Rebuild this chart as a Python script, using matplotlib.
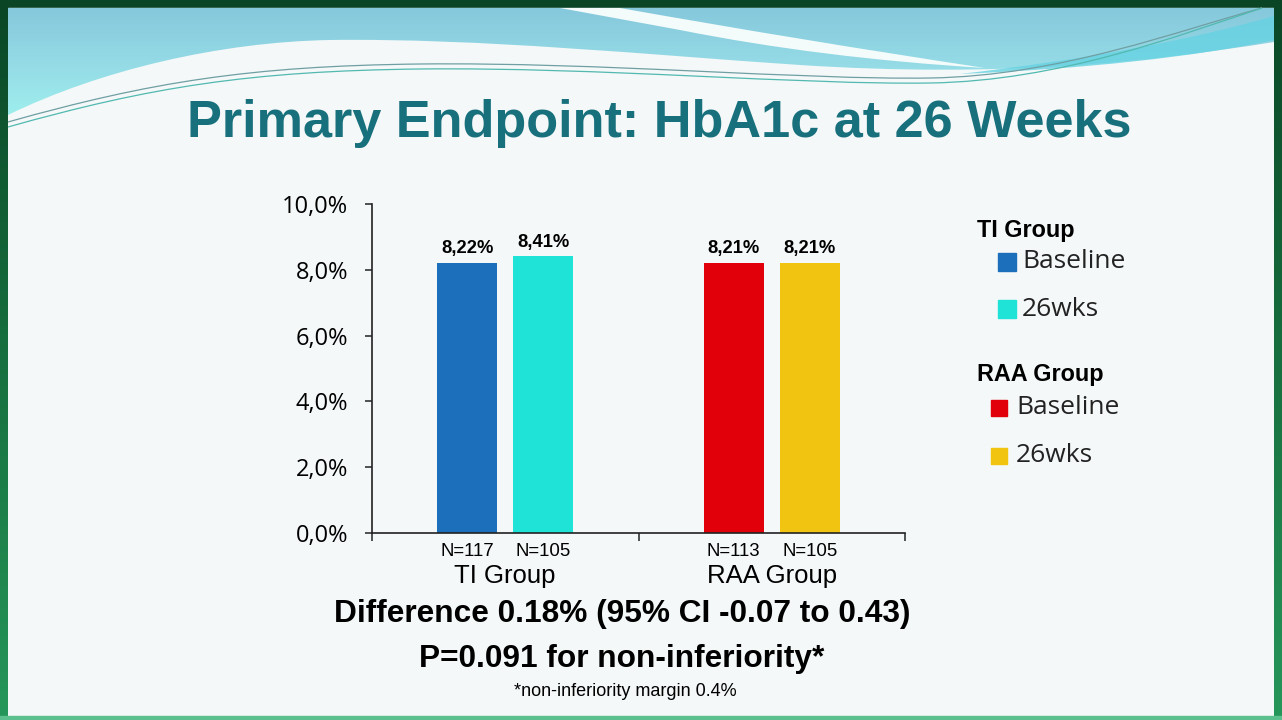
import numpy as np
import matplotlib
matplotlib.use("Agg")
import matplotlib.pyplot as plt
from matplotlib.path import Path
from matplotlib.patches import PathPatch, Rectangle
from matplotlib.colors import LinearSegmentedColormap

# chart data
groups = ["TI Group", "RAA Group"]
series = ["Baseline", "26wks"]
baseline = [8.22, 8.21]
week26 = [8.41, 8.21]
n_baseline = [117, 113]
n_week26 = [105, 105]
yticks = [0, 2, 4, 6, 8, 10]

baseline_colors = ["#1b6fbb", "#e1000a"]
week26_colors = ["#1fe3d6", "#f2c412"]

title = "Primary Endpoint: HbA1c at 26 Weeks"
result_lines = ["Difference 0.18% (95% CI -0.07 to 0.43)", "P=0.091 for non-inferiority*"]
footnote = "*non-inferiority margin 0.4%"

ARIAL = "Liberation Sans"
CALIBRI = "Open Sans"

W, H = 1282, 720
fig = plt.figure(figsize=(W / 100, H / 100), dpi=100, facecolor="#0a4626")

# ---- slide background (pixel coordinates, y down) ----
bg = fig.add_axes([0, 0, 1, 1], zorder=-10)
bg.axis("off")
bg.add_patch(Rectangle((8, 8), W - 16, H - 12, color="#f4f8f8", zorder=0))

side = LinearSegmentedColormap.from_list("side", ["#0a4626", "#17703f", "#26975a"])
grad = np.linspace(0, 1, 256).reshape(-1, 1)
for x0 in (0, W - 8):
    bg.imshow(grad, cmap=side, extent=[x0, x0 + 8, H, 0], aspect="auto", zorder=1)
bg.add_patch(Rectangle((0, H - 4), W, 4, color="#5cbf8e", zorder=1))

C4 = Path.CURVE4
swoosh = Path(
    [(8, 8), (8, 115), (100, 70), (220, 42), (330, 40), (480, 38), (650, 55),
     (800, 65), (1000, 78), (1150, 62), (1274, 42), (1274, 8), (8, 8)],
    [Path.MOVETO, Path.LINETO, C4, C4, C4, C4, C4, C4, C4, C4, C4,
     Path.LINETO, Path.CLOSEPOLY],
)
sw_patch = PathPatch(swoosh, facecolor="none", edgecolor="none", zorder=2)
bg.add_patch(sw_patch)
cyan = LinearSegmentedColormap.from_list("cyan", ["#86c8dc", "#95dbe6", "#9ff0ee"])
im = bg.imshow(np.linspace(0, 1, 256).reshape(-1, 1), cmap=cyan,
               extent=[8, W - 8, 120, 8], aspect="auto", zorder=2)
im.set_clip_path(sw_patch)

streak = Path(
    [(560, 8), (620, 8), (800, 40), (985, 68), (820, 58), (680, 30), (560, 8)],
    [Path.MOVETO, Path.LINETO, Path.CURVE3, Path.CURVE3, Path.CURVE3, Path.CURVE3,
     Path.CLOSEPOLY],
)
bg.add_patch(PathPatch(streak, facecolor="#f3fbfb", edgecolor="none", zorder=3))

band = Path(
    [(960, 74), (1150, 52), (1274, 16), (1274, 40), (1150, 66), (960, 74)],
    [Path.MOVETO, Path.CURVE3, Path.CURVE3, Path.LINETO, Path.CURVE3, Path.CURVE3],
)
bg.add_patch(PathPatch(band, facecolor="#66d2e2", edgecolor="none", alpha=0.8, zorder=3))

for dy, col in ((0, "#6f9fa3"), (5, "#52b9b0")):
    line = Path(
        [(8, 122 + dy), (150, 82 + dy), (250, 66 + dy), (420, 64 + dy),
         (600, 62 + dy), (800, 80 + dy), (930, 78 + dy),
         (1060, 76 + dy), (1180, 30 + dy), (1262, 8)],
        [Path.MOVETO, C4, C4, C4, C4, C4, C4, C4, C4, C4],
    )
    bg.add_patch(PathPatch(line, facecolor="none", edgecolor=col, lw=0.9, zorder=4))

bg.set_xlim(0, W)
bg.set_ylim(H, 0)

# ---- title ----
fig.text(659 / W, 1 - 124 / H, title, ha="center", va="center", fontsize=37.6,
         fontweight="bold", color="#17707c", family=ARIAL)

# ---- bar chart ----
ax = fig.add_axes([372 / W, 1 - 533 / H, (905 - 372) / W, (533 - 204) / H])
ax.set_facecolor("none")
x = np.arange(len(groups))
offset, width = 0.143, 0.226
b1 = ax.bar(x - offset, baseline, width, color=baseline_colors)
b2 = ax.bar(x + offset, week26, width, color=week26_colors)

fmt = lambda v: f"{v:.2f}%".replace(".", ",")
for bars, vals in ((b1, baseline), (b2, week26)):
    ax.bar_label(bars, labels=[fmt(v) for v in vals], padding=4, fontsize=13.2,
                 fontweight="bold", family=ARIAL)

trans = ax.get_xaxis_transform()
for xi, n in zip(x - offset, n_baseline):
    ax.text(xi, -0.055, f"N={n}", transform=trans, ha="center", va="center",
            fontsize=13.4, family=ARIAL)
for xi, n in zip(x + offset, n_week26):
    ax.text(xi, -0.055, f"N={n}", transform=trans, ha="center", va="center",
            fontsize=13.4, family=ARIAL)

ax.set_xlim(-0.5, 1.5)
ax.set_ylim(0, 10)
ax.set_yticks(yticks)
ax.set_yticklabels([f"{v:.1f}%".replace(".", ",") for v in yticks],
                   fontsize=17, family=CALIBRI)
ax.set_xticks(x)
ax.set_xticklabels(groups, fontsize=18.5, family=ARIAL)
ax.set_xticks([-0.5, 0.5, 1.5], minor=True)
ax.tick_params(axis="x", which="major", length=0, pad=22.5)
ax.tick_params(axis="x", which="minor", length=6, width=1.1, color="#222222")
ax.tick_params(axis="y", length=5, width=1.1, color="#222222", pad=12)
for s in ("top", "right"):
    ax.spines[s].set_visible(False)
for s in ("left", "bottom"):
    ax.spines[s].set_linewidth(1.2)
    ax.spines[s].set_color("#222222")

# ---- legend ----
legend_blocks = [
    (groups[0], 231, [(998, 262, 18), (998, 309, 18)], 1022, [baseline_colors[0], week26_colors[0]]),
    (groups[1], 374, [(991, 408, 16), (991, 456, 16)], 1016, [baseline_colors[1], week26_colors[1]]),
]
for head, hy, boxes, tx, cols in legend_blocks:
    fig.text(977 / W, 1 - hy / H, head, ha="left", va="center", fontsize=16.8,
             fontweight="bold", family=ARIAL)
    for (bx, by, sz), col, lab in zip(boxes, cols, series):
        bg.add_patch(Rectangle((bx, by - sz / 2), sz, sz, color=col, zorder=5))
        fig.text(tx / W, 1 - by / H, lab, ha="left", va="center", fontsize=19,
                 color="#222222", family=CALIBRI)

# ---- result text ----
fig.text(622 / W, 1 - 614 / H, result_lines[0], ha="center", va="center",
         fontsize=22.8, fontweight="bold", family=ARIAL)
fig.text(622 / W, 1 - 659 / H, result_lines[1], ha="center", va="center",
         fontsize=22.8, fontweight="bold", family=ARIAL)
fig.text(625 / W, 1 - 691 / H, footnote, ha="center", va="center",
         fontsize=13, family=ARIAL)

fig.savefig("out.png", dpi=100, facecolor=fig.get_facecolor())
